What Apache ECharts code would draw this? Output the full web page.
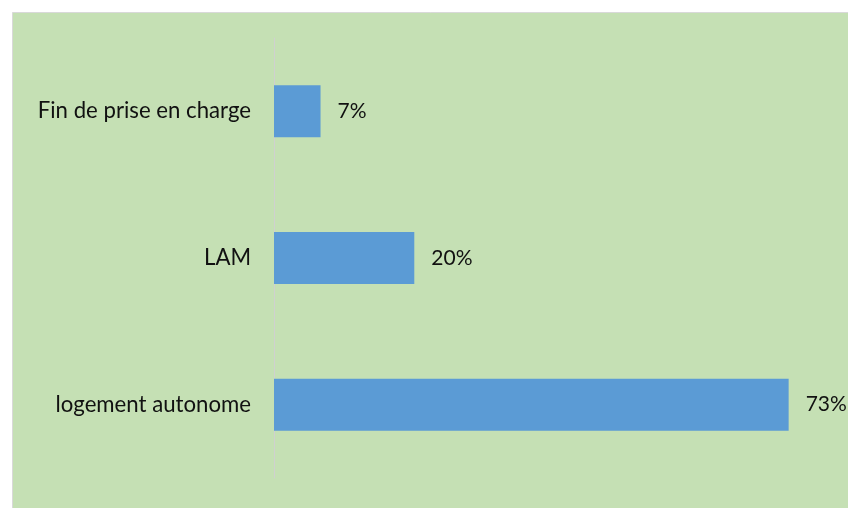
<!DOCTYPE html>
<html><head><meta charset="utf-8">
<script src="https://cdn.jsdelivr.net/npm/echarts@6/dist/echarts.min.js"></script>
<style>html,body{margin:0;padding:0;background:#fff}#c{width:848px;height:508px}</style>
</head><body><div id="c"></div>
<script>
const categories = ['logement autonome', 'LAM', 'Fin de prise en charge'];
const values = [73.0, 19.9, 6.6];
const chart = echarts.init(document.getElementById('c'), null, {renderer: 'canvas'});
chart.setOption({
  backgroundColor: '#ffffff',
  animation: false,
  graphic: [{
    type: 'rect', z: -10, silent: true,
    shape: {x: 12.5, y: 12.5, width: 840, height: 500},
    style: {fill: '#C5E0B4', stroke: '#D9D9D9', lineWidth: 1}
  }],
  grid: {left: 274, right: 10, top: 38, bottom: 30, containLabel: false},
  xAxis: {type: 'value', min: 0, max: 80, show: false},
  yAxis: {
    type: 'category', data: categories,
    axisLine: {show: true, lineStyle: {color: '#D0D0D0', width: 1}},
    axisTick: {show: false},
    axisLabel: {color: '#111', fontFamily: 'Lato', fontSize: 22.2, margin: 23}
  },
  series: [{
    type: 'bar', data: values, barCategoryGap: '64.5%',
    itemStyle: {color: '#5B9BD5'},
    label: {show: true, position: 'right', distance: 17, color: '#111', fontFamily: 'Lato', fontSize: 21,
      formatter: p => Math.round(p.value) + '%'}
  }]
});
</script></body></html>
